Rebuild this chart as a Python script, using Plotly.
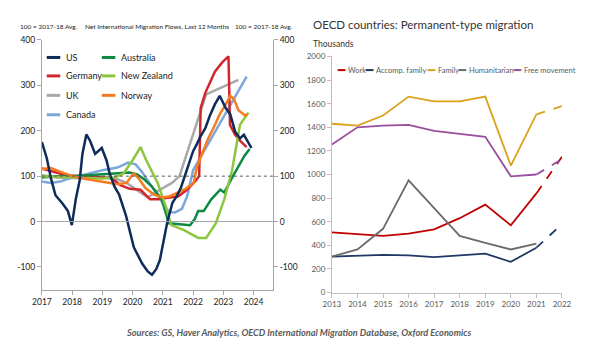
import plotly.graph_objects as go

# ---------------- Left panel data (100 = 2017-18 avg) ----------------
us_x = [2017.0, 2017.16, 2017.3, 2017.45, 2017.7, 2017.86, 2017.99, 2018.12, 2018.25, 2018.34, 2018.47, 2018.6,
        2018.76, 2018.98, 2019.14, 2019.24, 2019.4, 2019.55, 2019.78, 2020.04, 2020.32, 2020.5, 2020.64, 2020.78,
        2020.9, 2021.05, 2021.15, 2021.32, 2021.45, 2021.6, 2021.8, 2022.0, 2022.12, 2022.24, 2022.4, 2022.56,
        2022.72, 2022.88, 2023.07, 2023.23, 2023.39, 2023.55, 2023.68, 2023.8, 2023.93]
us_y = [175, 140, 95, 58, 38, 23, -8, 49, 91, 149, 192, 177, 149, 162, 134, 106, 77, 60, 13, -57, -93, -110,
        -117, -105, -85, -35, 0, 42, 55, 75, 113, 155, 170, 187, 205, 234, 258, 277, 251, 236, 198, 183, 191,
        177, 162]

de_x = [2017.0, 2017.3, 2017.8, 2018.3, 2018.9, 2019.3, 2019.6, 2019.9, 2020.26, 2020.58, 2020.85, 2021.1,
        2021.5, 2021.8, 2022.1, 2022.2, 2022.25, 2022.4, 2022.72, 2022.97, 2023.17, 2023.22, 2023.39, 2023.55,
        2023.77]
de_y = [117, 112, 102, 100, 98, 96, 80, 72, 70, 49, 49, 52, 55, 70, 91, 100, 250, 283, 330, 351, 364, 213,
        191, 178, 164]

uk_x = [2017.0, 2017.5, 2018.0, 2018.5, 2019.0, 2019.5, 2019.8, 2020.2, 2020.5, 2020.74, 2021.0, 2021.3,
        2021.55, 2022.43, 2023.5]
uk_y = [102, 97, 96, 95, 97, 93, 85, 66, 53, 64, 73, 85, 100, 280, 312]

ca_x = [2017.0, 2017.3, 2017.6, 2018.0, 2018.5, 2019.0, 2019.5, 2019.85, 2020.1, 2020.3, 2020.45, 2020.7,
        2020.96, 2021.2, 2021.4, 2021.63, 2021.8, 2022.0, 2023.77]
ca_y = [88, 85, 88, 97, 105, 113, 119, 130, 126, 110, 95, 70, 45, 21, 20, 28, 55, 113, 319]

au_x = [2017.0, 2017.5, 2018.0, 2018.5, 2019.0, 2019.5, 2019.9, 2020.15, 2020.4, 2020.64, 2020.96, 2021.2,
        2021.5, 2021.9, 2022.05, 2022.17, 2022.35, 2022.6, 2022.9, 2023.03, 2023.3, 2023.55, 2023.7, 2023.87]
au_y = [97, 100, 100, 102, 104, 106, 108, 104, 92, 77, 49, -4, -5, -8, 5, 23, 23, 49, 70, 64, 98, 128, 145,
        160]

nz_x = [2017.0, 2017.5, 2018.0, 2018.5, 2019.0, 2019.4, 2019.7, 2020.0, 2020.26, 2020.45, 2020.83, 2021.12,
        2021.28, 2021.7, 2022.17, 2022.43, 2022.75, 2023.03, 2023.29, 2023.55, 2023.83]
nz_y = [100, 98, 97, 96, 95, 97, 106, 135, 164, 135, 85, 28, -8, -19, -36, -36, -4, 49, 113, 213, 240]

no_x = [2017.0, 2017.3, 2017.6, 2018.0, 2018.5, 2019.0, 2019.5, 2019.8, 2020.03, 2020.2, 2020.42, 2020.7,
        2020.96, 2021.2, 2021.47, 2021.75, 2022.02, 2022.12, 2022.3, 2022.5, 2022.7, 2022.88, 2023.05, 2023.23,
        2023.35, 2023.5, 2023.71, 2023.8]
no_y = [116, 118, 110, 100, 93, 88, 82, 85, 106, 95, 74, 60, 53, 55, 64, 72, 85, 119, 150, 183, 210, 236,
        255, 277, 270, 245, 234, 236]

left_years = [2017, 2018, 2019, 2020, 2021, 2022, 2023, 2024]
left_yticks = [-100, 0, 100, 200, 300, 400]
left_yticklabels = ["-100", "0", "100", "200", "300", "400"]

# ---------------- Right panel data (thousands) ----------------
oecd_years = [2013, 2014, 2015, 2016, 2017, 2018, 2019, 2020, 2021, 2022]
work = [510, 495, 480, 500, 535, 630, 745, 570, 840, 1150]
accomp_family = [305, 310, 320, 315, 300, 315, 330, 260, 380, 580]
family = [1430, 1415, 1500, 1660, 1620, 1620, 1660, 1075, 1510, 1580]
humanitarian = [305, 365, 540, 950, 715, 480, 420, 365, 415, None]
free_movement = [1255, 1400, 1415, 1420, 1370, 1345, 1320, 985, 1000, 1130]
right_yticks = [0, 200, 400, 600, 800, 1000, 1200, 1400, 1600, 1800, 2000]

FONT = "Lato, Liberation Sans, sans-serif"

left_series = [
    ("US", us_x, us_y, "#0E2C5A"),
    ("Germany", de_x, de_y, "#D3262C"),
    ("UK", uk_x, uk_y, "#A8A8A8"),
    ("Canada", ca_x, ca_y, "#7BA7DA"),
    ("Australia", au_x, au_y, "#0C8A41"),
    ("New Zealand", nz_x, nz_y, "#8CC63F"),
    ("Norway", no_x, no_y, "#F47C20"),
]
draw_order = ["UK", "Canada", "Germany", "Australia", "New Zealand", "Norway", "US"]

fig = go.Figure()
lookup = {s[0]: s for s in left_series}
for name in draw_order:
    n, xs, ys, c = lookup[name]
    fig.add_trace(go.Scatter(x=xs, y=ys, mode="lines", name=n, line=dict(color=c, width=2.5),
                             xaxis="x", yaxis="y", showlegend=False))
# invisible trace for the right-hand axis of the left panel
fig.add_trace(go.Scatter(x=[left_years[0]], y=[None], mode="lines", xaxis="x", yaxis="y2",
                         showlegend=False, hoverinfo="skip"))

right_series = [
    ("Work", work, "#C00000"),
    ("Accomp. family", accomp_family, "#1F3864"),
    ("Family", family, "#D9A21B"),
    ("Humanitarian", humanitarian, "#6B6B6B"),
    ("Free movement", free_movement, "#9A4F9D"),
]
for n, vals, c in right_series:
    fig.add_trace(go.Scatter(x=oecd_years[:-1], y=vals[:-1], mode="lines", name=n,
                             line=dict(color=c, width=1.8), xaxis="x3", yaxis="y3", showlegend=False))
    if vals[-1] is not None:
        fig.add_trace(go.Scatter(x=oecd_years[-2:], y=vals[-2:], mode="lines", name=n,
                                 line=dict(color=c, width=1.8, dash="dash"), xaxis="x3", yaxis="y3",
                                 showlegend=False))

def px(x):
    return x / 600.0

def py(y):
    return 1 - y / 350.0

shapes = []
annotations = []

# reference lines on left panel
shapes.append(dict(type="line", xref="x domain", yref="y", x0=0, x1=1, y0=0, y1=0,
                   line=dict(color="#A6A6A6", width=1)))
shapes.append(dict(type="line", xref="x domain", yref="y", x0=0, x1=1, y0=100, y1=100,
                   line=dict(color="#595959", width=1, dash="dot")))

# left legend (two columns)
leg_pos = {"US": (38, 54), "Germany": (38, 73), "UK": (38, 93), "Canada": (38, 113),
           "Australia": (95, 54), "New Zealand": (95, 73), "Norway": (95, 93)}
for n, xs, ys, c in left_series:
    lx, ly = leg_pos[n]
    shapes.append(dict(type="line", xref="paper", yref="paper", x0=px(lx), x1=px(lx + 14), y0=py(ly), y1=py(ly),
                       line=dict(color=c, width=3)))
    annotations.append(dict(x=px(lx + 18), y=py(ly), xref="paper", yref="paper", text=n, showarrow=False,
                            xanchor="left", yanchor="middle", font=dict(family=FONT, size=9, color="#222")))

# right legend (one row)
rleg = {"Work": 339, "Accomp. family": 368, "Family": 432, "Humanitarian": 464, "Free movement": 521}
for n, vals, c in right_series:
    lx = rleg[n]
    shapes.append(dict(type="line", xref="paper", yref="paper", x0=px(lx), x1=px(lx + 8), y0=py(67), y1=py(67),
                       line=dict(color=c, width=2)))
    annotations.append(dict(x=px(lx + 8.5), y=py(67), xref="paper", yref="paper", text=n, showarrow=False,
                            xanchor="left", yanchor="middle", font=dict(family=FONT, size=7.5, color="#595959")))

# headers
hdr_font = dict(family=FONT, size=6.5, color="#222")
annotations += [
    dict(x=px(8), y=py(22), xref="paper", yref="paper", text="100 = 2017-18 Avg.", showarrow=False,
         xanchor="left", yanchor="middle", font=hdr_font),
    dict(x=px(152), y=py(22), xref="paper", yref="paper", text="Net International Migration Flows, Last 12 Months",
         showarrow=False, xanchor="center", yanchor="middle", font=hdr_font),
    dict(x=px(295), y=py(22), xref="paper", yref="paper", text="100 = 2017-18 Avg.", showarrow=False,
         xanchor="right", yanchor="middle", font=hdr_font),
    dict(x=px(311), y=py(20), xref="paper", yref="paper", text="OECD countries: Permanent-type migration",
         showarrow=False, xanchor="left", yanchor="middle", font=dict(family=FONT, size=11.5, color="#333")),
    dict(x=px(311), y=py(40), xref="paper", yref="paper", text="Thousands", showarrow=False,
         xanchor="left", yanchor="middle", font=dict(family=FONT, size=8.5, color="#333")),
    dict(x=px(298), y=py(337), xref="paper", yref="paper",
         text="<b><i>Sources: GS, Haver Analytics, OECD International Migration Database, Oxford Economics</i></b>",
         showarrow=False, xanchor="center", yanchor="middle", font=dict(family=FONT, size=9.2, color="#595959")),
]

tick_font_l = dict(family=FONT, size=8.5, color="#222")
tick_font_r = dict(family=FONT, size=8, color="#595959")

fig.update_layout(
    width=600, height=350, margin=dict(l=0, r=0, t=0, b=0),
    paper_bgcolor="white", plot_bgcolor="white",
    shapes=shapes, annotations=annotations,
    xaxis=dict(domain=[px(33), px(272)], range=[2017, 2024.64], tickvals=left_years,
               ticktext=[str(v) for v in left_years], ticks="outside", ticklen=4, tickcolor="#A6A6A6",
               showline=True, linecolor="#A6A6A6", showgrid=False, zeroline=False, anchor="y",
               tickfont=tick_font_l),
    yaxis=dict(domain=[py(293), py(36)], range=[-150, 400], tickvals=left_yticks, ticktext=left_yticklabels,
               ticks="outside", ticklen=4, tickcolor="#A6A6A6", showline=True, linecolor="#A6A6A6",
               showgrid=False, zeroline=False, anchor="x", tickfont=tick_font_l),
    yaxis2=dict(domain=[py(293), py(36)], range=[-150, 400], tickvals=left_yticks, ticktext=left_yticklabels,
                ticks="outside", ticklen=4, tickcolor="#A6A6A6", showline=True, linecolor="#A6A6A6",
                showgrid=False, zeroline=False, anchor="x", overlaying="y", side="right", tickfont=tick_font_l),
    xaxis3=dict(domain=[px(333), px(571)], range=[2013, 2022], tickvals=oecd_years,
                ticktext=[str(v) for v in oecd_years], ticks="outside", ticklen=4, tickcolor="#BFBFBF",
                showline=True, linecolor="#BFBFBF", showgrid=False, zeroline=False, anchor="y3",
                tickfont=tick_font_r),
    yaxis3=dict(domain=[py(296), py(53)], range=[0, 2000], tickvals=right_yticks, ticks="outside", ticklen=4,
                tickcolor="#BFBFBF", showline=True, linecolor="#BFBFBF", showgrid=False, zeroline=False,
                anchor="x3", tickfont=tick_font_r),
)

fig.write_html("out.html")
